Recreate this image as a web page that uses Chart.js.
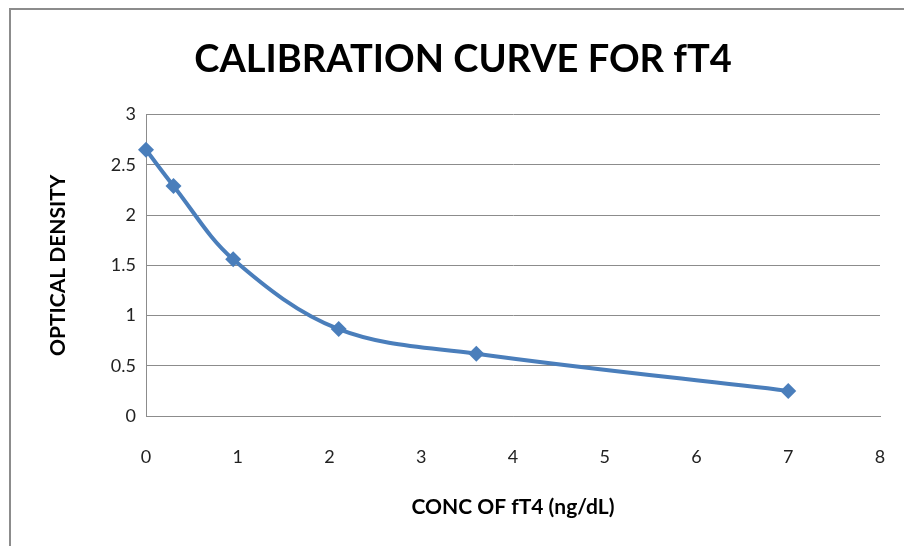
<!DOCTYPE html>
<html>
<head>
<meta charset="utf-8">
<title>Calibration curve for fT4</title>
<script src="https://cdn.jsdelivr.net/npm/chart.js@4"></script>
<style>
  html, body { margin: 0; padding: 0; background: #fff; }
  #wrap { position: relative; width: 904px; height: 546px; overflow: hidden; }
  #frame {
    position: absolute; left: 9px; top: 8px; width: 920px; height: 560px;
    border-left: 2px solid #8c8c8c; border-top: 2px solid #8c8c8c;
    pointer-events: none;
  }
  canvas { position: absolute; left: 0; top: 0; }
</style>
</head>
<body>
<div id="wrap">
  <canvas id="calChart" width="904" height="546"></canvas>
  <div id="frame"></div>
</div>
<script>
// standards: concentration (ng/dL) against optical density
const concentration = [0, 0.3, 0.95, 2.1, 3.6, 7];
const opticalDensity = [2.65, 2.29, 1.56, 0.865, 0.62, 0.25];
const xTicks = [0, 1, 2, 3, 4, 5, 6, 7, 8];
const yTicks = [0, 0.5, 1, 1.5, 2, 2.5, 3];

const fontFamily = 'Lato, "Open Sans", sans-serif';
const points = concentration.map((c, i) => ({ x: c, y: opticalDensity[i] }));

new Chart(document.getElementById('calChart'), {
  type: 'scatter',
  data: {
    datasets: [{
      label: 'OD',
      data: points,
      showLine: true,
      clip: false,
      borderColor: '#4a7ebb',
      backgroundColor: '#4a7ebb',
      borderWidth: 4,
      tension: 0.35,
      pointStyle: 'rectRot',
      pointRadius: 8,
      pointHoverRadius: 8,
      pointBorderWidth: 0
    }]
  },
  options: {
    responsive: false,
    animation: false,
    events: [],
    layout: { autoPadding: false, padding: { left: 46, right: 24, top: 10, bottom: 26 } },
    plugins: {
      legend: { display: false },
      tooltip: { enabled: false },
      title: {
        display: true,
        text: 'CALIBRATION CURVE FOR fT4',
        color: '#000',
        font: { family: fontFamily, size: 38, weight: 'bold', lineHeight: 1.2 },
        padding: { top: 27, bottom: 32 }
      }
    },
    scales: {
      x: {
        type: 'linear',
        min: 0,
        max: 8,
        afterBuildTicks: s => { s.ticks = xTicks.map(v => ({ value: v })); },
        afterFit: s => { s.height = 546 - 26 - 416; },
        // hidden tick marks keep the labels well below the axis line
        grid: { display: false, drawTicks: true, tickLength: 27, tickColor: 'rgba(0,0,0,0)' },
        border: { display: true, color: '#8c8c8c', width: 1 },
        ticks: {
          color: '#222', padding: 3,
          font: { family: fontFamily, size: 18 },
          callback: v => String(v)
        },
        title: {
          display: true,
          text: 'CONC OF fT4 (ng/dL)',
          color: '#000',
          padding: 0,
          font: { family: fontFamily, size: 21, weight: 'bold' }
        }
      },
      y: {
        type: 'linear',
        min: 0,
        max: 3,
        afterBuildTicks: s => { s.ticks = yTicks.map(v => ({ value: v })); },
        afterFit: s => { s.width = 146 - 46; },
        grid: { color: '#8c8c8c', lineWidth: 1, drawTicks: false },
        border: { display: true, color: '#8c8c8c', width: 1 },
        ticks: {
          color: '#222', padding: 10,
          font: { family: fontFamily, size: 18 },
          callback: v => String(v)
        },
        title: {
          display: true,
          text: 'OPTICAL DENSITY',
          color: '#000',
          padding: 0,
          font: { family: fontFamily, size: 21, weight: 'bold' }
        }
      }
    }
  }
});
</script>
</body>
</html>
